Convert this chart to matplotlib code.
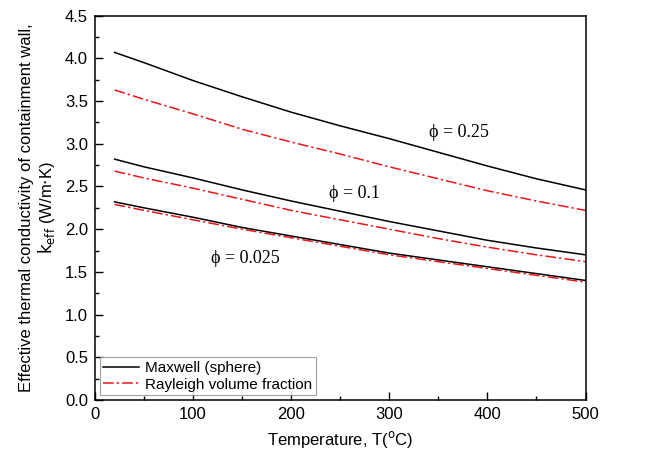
import matplotlib
matplotlib.use("Agg")
import matplotlib.pyplot as plt
from matplotlib.ticker import MultipleLocator, FormatStrFormatter

T = [20, 50, 100, 150, 200, 250, 300, 350, 400, 450, 500]
maxwell_025 = [4.07, 3.95, 3.74, 3.55, 3.37, 3.21, 3.06, 2.90, 2.74, 2.59, 2.46]
rayleigh_025 = [3.63, 3.52, 3.35, 3.17, 3.02, 2.88, 2.73, 2.59, 2.45, 2.33, 2.22]
maxwell_01 = [2.82, 2.73, 2.60, 2.46, 2.33, 2.21, 2.09, 1.98, 1.87, 1.78, 1.70]
rayleigh_01 = [2.68, 2.60, 2.48, 2.35, 2.22, 2.11, 2.00, 1.89, 1.79, 1.70, 1.62]
maxwell_0025 = [2.32, 2.25, 2.14, 2.02, 1.92, 1.82, 1.72, 1.64, 1.56, 1.48, 1.40]
rayleigh_0025 = [2.29, 2.22, 2.11, 2.00, 1.90, 1.80, 1.70, 1.62, 1.54, 1.46, 1.38]

labels = ["\u03d5 = 0.25", "\u03d5 = 0.1", "\u03d5 = 0.025"]
label_pos = [(371, 3.13), (265, 2.42), (153, 1.66)]

plt.rcParams['font.family'] = ['Liberation Sans', 'DejaVu Sans']

fig = plt.figure(figsize=(6.48, 4.57), dpi=100)
ax = fig.add_axes([0.1466, 0.1247, 0.757, 0.841])

red = '#e8161b'
dash = (0, (7, 2, 1.5, 2))
ax.plot(T, maxwell_025, color='black', lw=1.1, label='Maxwell (sphere)')
ax.plot(T, rayleigh_025, color=red, lw=1.1, ls=dash, label='Rayleigh volume fraction')
ax.plot(T, maxwell_01, color='black', lw=1.1)
ax.plot(T, rayleigh_01, color=red, lw=1.1, ls=dash)
ax.plot(T, maxwell_0025, color='black', lw=1.1)
ax.plot(T, rayleigh_0025, color=red, lw=1.1, ls=dash)

for txt, (x, y) in zip(labels, label_pos):
    ax.text(x, y, txt, ha='center', va='center', fontsize=13,
            family=['Liberation Serif', 'DejaVu Serif'])

ax.set_xlim(0, 500)
ax.set_ylim(0, 4.5)
ax.xaxis.set_major_locator(MultipleLocator(100))
ax.xaxis.set_minor_locator(MultipleLocator(50))
ax.yaxis.set_major_locator(MultipleLocator(0.5))
ax.yaxis.set_minor_locator(MultipleLocator(0.25))
ax.yaxis.set_major_formatter(FormatStrFormatter('%.1f'))
ax.tick_params(which='both', direction='in', labelsize=12, width=1)
ax.tick_params(which='major', length=5.5, pad=5)
ax.tick_params(which='minor', length=3)
ax.tick_params(axis='x', which='both', top=False)
ax.tick_params(axis='y', which='both', right=False)
for s in ax.spines.values():
    s.set_linewidth(1.1)

ax.set_xlabel('Temperature, T($^\\mathrm{o}$C)', fontsize=12, labelpad=5)
ax.set_ylabel('Effective thermal conductivity of containment wall,\n$\\mathrm{k_{eff}}$ (W/m$\\cdot$K)',
              fontsize=12, labelpad=6, linespacing=1.1)

leg = ax.legend(loc='lower left', fontsize=11, frameon=True, fancybox=False,
                edgecolor='#888888', handlelength=2.3, borderpad=0.25,
                labelspacing=0.15, borderaxespad=0.3, handletextpad=0.4)
leg.get_frame().set_linewidth(0.8)

fig.savefig('out.png', dpi=100)
